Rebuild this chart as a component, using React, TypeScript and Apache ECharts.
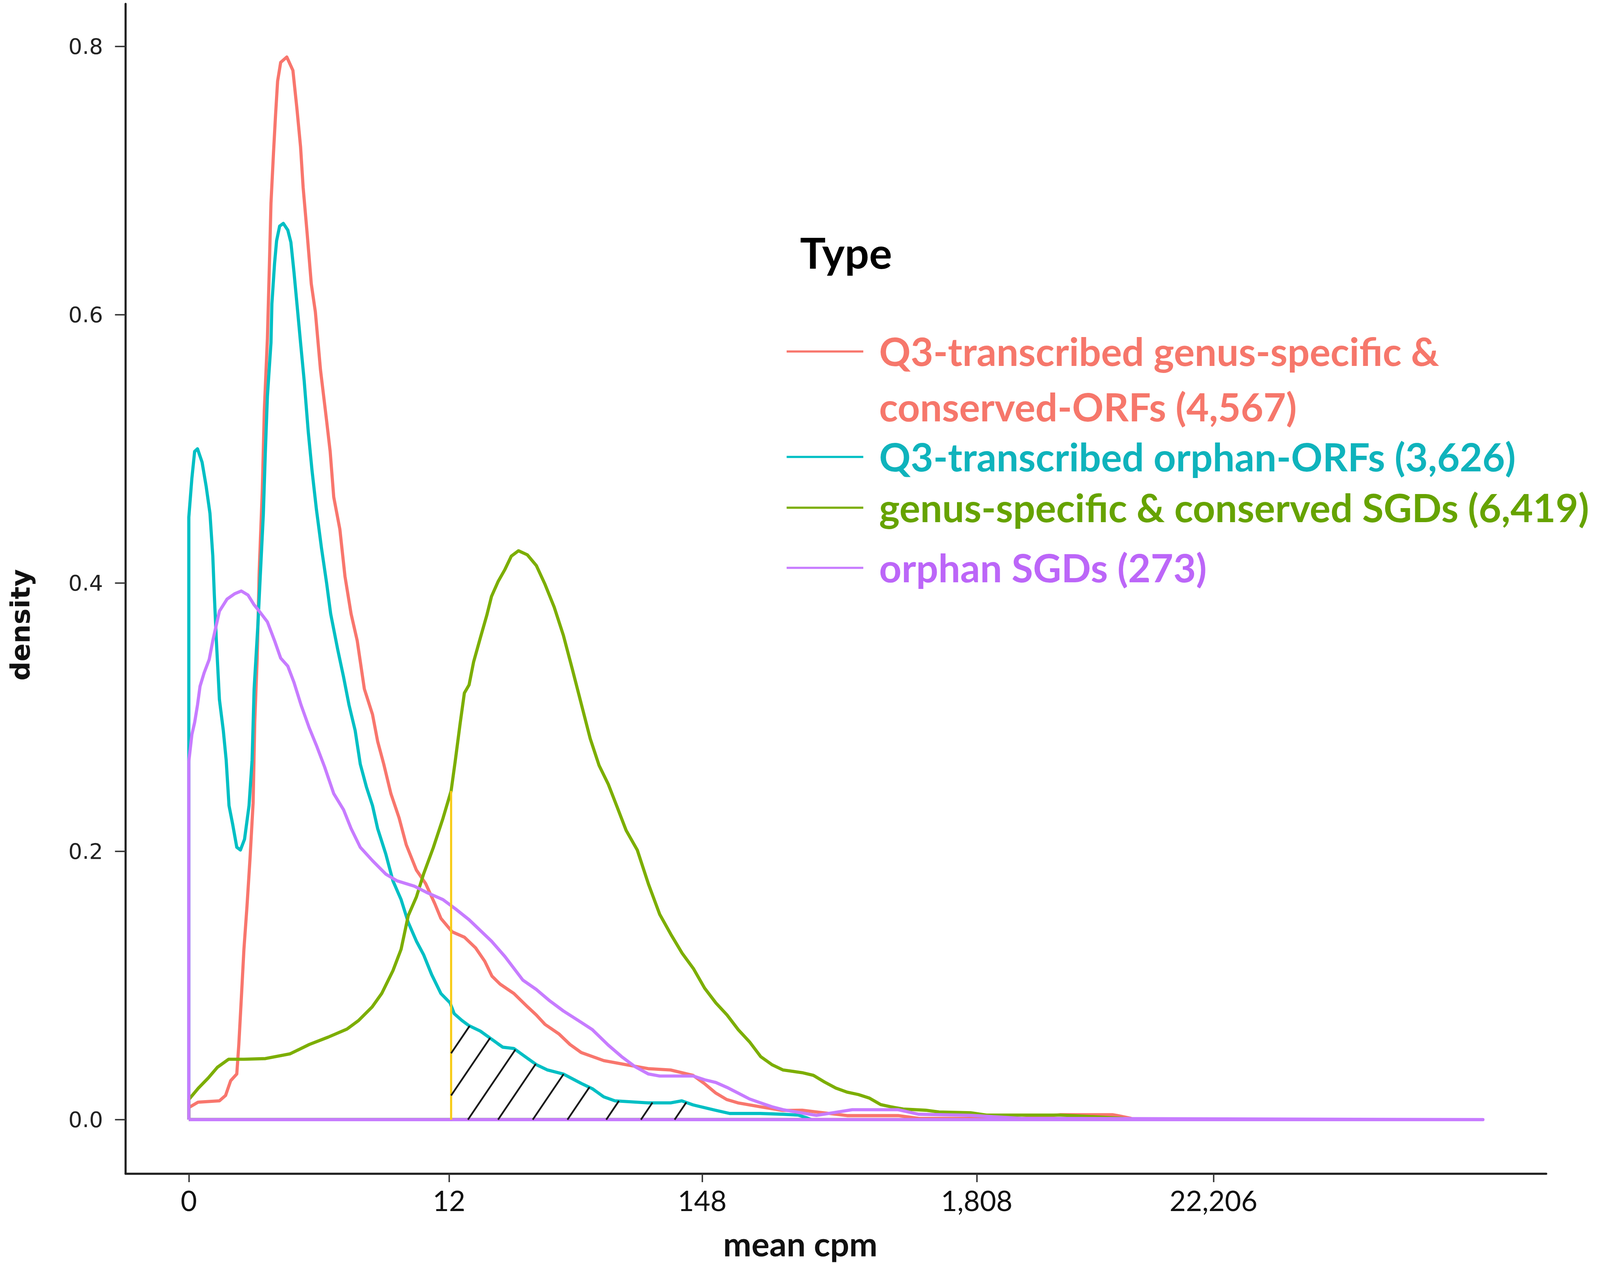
import React, { useEffect, useRef } from "react";
import * as echarts from "echarts";

// ---- Data (x in log units of mean cpm, y = density) ----
const seriesNames = [
  "Q3-transcribed genus-specific & conserved-ORFs (4,567)",
  "Q3-transcribed orphan-ORFs (3,626)",
  "genus-specific & conserved SGDs (6,419)",
  "orphan SGDs (273)",
];
const seriesColors = ["#F8766D", "#00BFC4", "#7CAE00", "#C77CFF"];
const legendTextColors = ["#F6776B", "#0FB3BC", "#66A300", "#BC66F8"];

const xTickValues = [0, 2.55, 5.03, 7.72, 10.04];
const xTickLabels = ["0", "12", "148", "1,808", "22,206"];
const yTickValues = [0, 0.2, 0.4, 0.6, 0.8];

const redCurve = [
  [0, 0], [0, 0.009], [0.09, 0.013], [0.3, 0.014], [0.36, 0.018], [0.41, 0.029], [0.47, 0.034],
  [0.49, 0.056], [0.515, 0.091], [0.54, 0.127], [0.57, 0.159], [0.6, 0.195], [0.63, 0.236],
  [0.646, 0.296], [0.67, 0.344], [0.69, 0.409], [0.72, 0.469], [0.74, 0.529], [0.77, 0.582],
  [0.79, 0.638], [0.805, 0.683], [0.83, 0.721], [0.85, 0.749], [0.87, 0.774], [0.9, 0.788],
  [0.96, 0.792], [1.02, 0.782], [1.06, 0.753], [1.095, 0.725], [1.12, 0.695], [1.16, 0.66],
  [1.2, 0.623], [1.24, 0.602], [1.29, 0.559], [1.35, 0.521], [1.385, 0.498], [1.42, 0.464],
  [1.48, 0.44], [1.53, 0.405], [1.59, 0.377], [1.65, 0.357], [1.72, 0.321], [1.8, 0.302],
  [1.85, 0.282], [1.91, 0.265], [1.98, 0.243], [2.06, 0.225], [2.13, 0.205], [2.23, 0.186],
  [2.32, 0.176], [2.41, 0.161], [2.47, 0.15], [2.58, 0.14], [2.7, 0.136], [2.81, 0.128],
  [2.9, 0.118], [2.97, 0.107], [3.05, 0.101], [3.185, 0.094], [3.32, 0.084], [3.405, 0.078],
  [3.49, 0.071], [3.625, 0.064], [3.735, 0.056], [3.845, 0.05], [4.065, 0.044], [4.28, 0.041],
  [4.5, 0.038], [4.72, 0.037], [4.94, 0.033], [5.05, 0.027], [5.16, 0.02], [5.27, 0.015],
  [5.38, 0.0125], [5.6, 0.0096], [5.82, 0.0068], [6.01, 0.007], [6.15, 0.0057], [6.45, 0.003],
  [6.95, 0.003], [7.15, 0.001], [8.15, 0.0007], [8.54, 0.0037], [9.05, 0.0037], [9.1, 0.003],
  [9.23, 0.001], [9.23, 0], [0, 0],
];

const cyanCurve = [
  [0, 0], [0, 0.449], [0.03, 0.478], [0.057, 0.498], [0.085, 0.5], [0.13, 0.49], [0.17, 0.472],
  [0.207, 0.452], [0.235, 0.42], [0.25, 0.391], [0.27, 0.357], [0.3, 0.313], [0.338, 0.29],
  [0.366, 0.268], [0.394, 0.234], [0.43, 0.22], [0.47, 0.203], [0.506, 0.201], [0.546, 0.209],
  [0.59, 0.234], [0.62, 0.268], [0.64, 0.321], [0.677, 0.369], [0.7, 0.405], [0.73, 0.451],
  [0.75, 0.498], [0.77, 0.539], [0.805, 0.579], [0.814, 0.608], [0.84, 0.638], [0.86, 0.655],
  [0.89, 0.666], [0.926, 0.668], [0.97, 0.663], [1.0, 0.654], [1.03, 0.632], [1.067, 0.602],
  [1.095, 0.579], [1.13, 0.551], [1.17, 0.513], [1.207, 0.484], [1.25, 0.455], [1.3, 0.426],
  [1.35, 0.4], [1.39, 0.377], [1.46, 0.35], [1.516, 0.33], [1.57, 0.309], [1.63, 0.29],
  [1.68, 0.265], [1.74, 0.248], [1.8, 0.234], [1.85, 0.217], [1.93, 0.198], [2.0, 0.178],
  [2.08, 0.164], [2.15, 0.147], [2.23, 0.133], [2.3, 0.123], [2.38, 0.108], [2.47, 0.094],
  [2.56, 0.087], [2.6, 0.079], [2.675, 0.074], [2.746, 0.07], [2.856, 0.066], [2.966, 0.06],
  [3.076, 0.054], [3.185, 0.053], [3.295, 0.047], [3.405, 0.041], [3.515, 0.037], [3.67, 0.034],
  [3.845, 0.027], [3.955, 0.023], [4.065, 0.017], [4.175, 0.014], [4.5, 0.0125], [4.72, 0.0125],
  [4.83, 0.014], [4.94, 0.011], [5.16, 0.007], [5.3, 0.0046], [5.6, 0.0046], [5.82, 0.004],
  [5.97, 0.0034], [6.05, 0.0015], [6.1, 0], [0, 0],
];

const greenCurve = [
  [0, 0], [0, 0.015], [0.094, 0.0235], [0.19, 0.031], [0.28, 0.039], [0.39, 0.045], [0.54, 0.045],
  [0.75, 0.0455], [0.99, 0.049], [1.18, 0.056], [1.366, 0.0615], [1.55, 0.0675], [1.665, 0.074],
  [1.796, 0.084], [1.89, 0.094], [2.0, 0.111], [2.08, 0.127], [2.15, 0.152], [2.23, 0.166],
  [2.3, 0.183], [2.395, 0.2026], [2.49, 0.2245], [2.57, 0.245], [2.61, 0.267], [2.658, 0.295],
  [2.7, 0.318], [2.746, 0.324], [2.79, 0.341], [2.856, 0.359], [2.92, 0.376], [2.966, 0.39],
  [3.03, 0.401], [3.097, 0.41], [3.16, 0.42], [3.23, 0.424], [3.317, 0.421], [3.405, 0.413],
  [3.49, 0.399], [3.58, 0.382], [3.67, 0.361], [3.757, 0.336], [3.845, 0.31], [3.933, 0.284],
  [4.02, 0.264], [4.11, 0.25], [4.197, 0.233], [4.285, 0.2156], [4.394, 0.201], [4.504, 0.1755],
  [4.614, 0.153], [4.724, 0.138], [4.834, 0.124], [4.944, 0.1126], [5.054, 0.098], [5.164, 0.087],
  [5.274, 0.078], [5.384, 0.067], [5.494, 0.058], [5.603, 0.047], [5.713, 0.041], [5.823, 0.037],
  [6.01, 0.035], [6.12, 0.033], [6.23, 0.028], [6.34, 0.0235], [6.45, 0.0205], [6.56, 0.0187],
  [6.67, 0.016], [6.78, 0.0112], [6.89, 0.0094], [7.0, 0.0079], [7.22, 0.007], [7.35, 0.0057],
  [7.66, 0.0051], [7.815, 0.0034], [8.54, 0.0034], [8.69, 0.0029], [9.15, 0.001], [9.2, 0], [0, 0],
];

const purpleCurve = [
  [0, 0], [0, 0.267], [0.03, 0.287], [0.057, 0.296], [0.085, 0.309], [0.11, 0.323], [0.15, 0.333],
  [0.2, 0.343], [0.235, 0.357], [0.3, 0.379], [0.375, 0.388], [0.45, 0.392], [0.515, 0.394],
  [0.58, 0.391], [0.637, 0.384], [0.69, 0.379], [0.77, 0.371], [0.84, 0.357], [0.9, 0.344],
  [0.97, 0.338], [1.03, 0.326], [1.1, 0.309], [1.18, 0.292], [1.25, 0.279], [1.33, 0.263],
  [1.42, 0.243], [1.516, 0.231], [1.59, 0.217], [1.68, 0.203], [1.8, 0.193], [1.93, 0.183],
  [2.04, 0.178], [2.21, 0.174], [2.34, 0.169], [2.49, 0.164], [2.614, 0.157], [2.746, 0.149],
  [2.856, 0.141], [2.966, 0.133], [3.098, 0.1215], [3.273, 0.104], [3.405, 0.097], [3.537, 0.0885],
  [3.67, 0.081], [3.845, 0.0725], [3.955, 0.067], [4.109, 0.0556], [4.24, 0.047], [4.372, 0.0395],
  [4.504, 0.034], [4.614, 0.0325], [4.944, 0.0325], [5.054, 0.0297], [5.164, 0.0277], [5.274, 0.024],
  [5.384, 0.0197], [5.494, 0.0154], [5.603, 0.0125], [5.713, 0.0096], [5.823, 0.0074], [5.97, 0.0054],
  [6.15, 0.0032], [6.5, 0.0074], [6.95, 0.0074], [7.15, 0.004], [7.65, 0.0032], [8.15, 0.001],
  [12.68, 0], [0, 0],
];

const curves = [redCurve, cyanCurve, greenCurve, purpleCurve];

// threshold (12 cpm) and hatch line foot positions on the baseline
const thresholdX = 2.57;
const hatchStarts = [2.13, 2.41, 2.735, 3.03, 3.37, 3.71, 4.09, 4.43, 4.76];

function interp(curve: number[][], x: number): number {
  for (let i = 0; i < curve.length - 1; i++) {
    const a = curve[i];
    const b = curve[i + 1];
    if (b[0] > a[0] && x >= a[0] && x <= b[0]) {
      return a[1] + ((b[1] - a[1]) * (x - a[0])) / (b[0] - a[0]);
    }
  }
  return 0;
}

// design reference size
const REF_W = 4550;
const REF_H = 3234;

export default function App() {
  const ref = useRef<HTMLDivElement>(null);

  useEffect(() => {
    if (!ref.current) return;
    const el = ref.current;
    const chart = echarts.init(el, null, { renderer: "svg" });
    const kx = el.clientWidth / REF_W;
    const ky = el.clientHeight / REF_H;
    const px = (v: number) => v * kx;
    const py = (v: number) => v * ky;
    const f = (v: number) => v * Math.min(kx, ky);

    const hatchSlope = 1.33 * (ky / kx);
    const lineSeries = curves.map((c, i) => ({
      name: seriesNames[i],
      type: "line",
      data: c,
      showSymbol: false,
      symbol: "none",
      smooth: false,
      lineStyle: { color: seriesColors[i], width: f(9), join: "round" },
      itemStyle: { color: seriesColors[i] },
      z: 2 + i,
    }));

    const legendFont = { fontFamily: "Lato", fontWeight: "bold", fontSize: f(111) };
    const legendRows = [
      { text: "Q3-transcribed genus-specific &", y: 898, line: true, c: 0 },
      { text: "conserved-ORFs (4,567)", y: 1040, line: false, c: 0 },
      { text: "Q3-transcribed orphan-ORFs (3,626)", y: 1168, line: true, c: 1 },
      { text: "genus-specific & conserved SGDs (6,419)", y: 1298, line: true, c: 2 },
      { text: "orphan SGDs (273)", y: 1452, line: true, c: 3 },
    ];
    const graphics: any[] = [
      {
        type: "text",
        x: px(2275),
        y: py(645),
        style: { text: "Type", fill: "#000", fontFamily: "Lato", fontWeight: "bold", fontSize: f(122), verticalAlign: "middle" },
      },
      {
        type: "text",
        x: px(58),
        y: py(1600),
        rotation: Math.PI / 2,
        style: { text: "density", fill: "#111", fontFamily: "DejaVu Sans", fontWeight: "bold", fontSize: f(76), align: "center", verticalAlign: "middle" },
      },
      {
        type: "text",
        x: px(2276),
        y: py(3183),
        style: { text: "mean cpm", fill: "#111", fontFamily: "Lato", fontWeight: "bold", fontSize: f(96), align: "center", verticalAlign: "middle" },
      },
    ];
    legendRows.forEach((r) => {
      if (r.line) {
        graphics.push({
          type: "line",
          shape: { x1: px(2237), y1: py(r.y + 2), x2: px(2455), y2: py(r.y + 2) },
          style: { stroke: seriesColors[r.c], lineWidth: f(6) },
        });
      }
      graphics.push({
        type: "text",
        x: px(2500),
        y: py(r.y),
        style: { text: r.text, fill: legendTextColors[r.c], ...legendFont, verticalAlign: "middle" },
      });
    });

    const option: any = {
      animation: false,
      backgroundColor: "#ffffff",
      grid: { left: px(357), right: px(153), top: py(10), bottom: py(229), containLabel: false },
      xAxis: {
        type: "value",
        min: -0.62,
        max: 13.3,
        splitLine: { show: false },
        axisLine: { show: true, onZero: false, lineStyle: { color: "#222", width: f(6) } },
        axisTick: { show: true, length: py(22), customValues: xTickValues, lineStyle: { color: "#333", width: f(4) } },
        axisLabel: {
          customValues: xTickValues,
          margin: py(32),
          fontFamily: "Lato",
          fontSize: f(80),
          color: "#111",
          formatter: (v: number) => {
            const idx = xTickValues.findIndex((t) => Math.abs(t - v) < 1e-6);
            return idx >= 0 ? xTickLabels[idx] : "";
          },
        },
      },
      yAxis: {
        type: "value",
        min: -0.0402,
        max: 0.8316,
        splitLine: { show: false },
        axisLine: { show: true, onZero: false, lineStyle: { color: "#222", width: f(6) } },
        axisTick: { show: true, length: px(30), customValues: yTickValues, lineStyle: { color: "#333", width: f(4) } },
        axisLabel: {
          customValues: yTickValues,
          margin: px(64),
          fontFamily: "DejaVu Sans",
          fontSize: f(62),
          color: "#222",
          formatter: (v: number) => v.toFixed(1),
        },
      },
      graphic: graphics,
      series: [
        ...lineSeries,
        {
          name: "threshold",
          type: "line",
          data: [
            [thresholdX, 0],
            [thresholdX, interp(greenCurve, thresholdX)],
          ],
          showSymbol: false,
          symbol: "none",
          lineStyle: { color: "#F7CB15", width: f(6) },
          z: 10,
        },
        {
          name: "hatch",
          type: "custom",
          coordinateSystem: "cartesian2d",
          data: hatchStarts.map((x) => [x, 0]),
          encode: { x: 0, y: 1 },
          z: 11,
          renderItem: (params: any, api: any) => {
            const x0 = api.value(0);
            const o = api.coord([0, 0]);
            const u = api.coord([1, 1]);
            const sx = u[0] - o[0];
            const sy = o[1] - u[1];
            const base = api.coord([x0, 0]);
            const startDx = x0 < thresholdX ? (thresholdX - x0) * sx : 0;
            let endDx = startDx;
            for (let dx = startDx; dx < 3000; dx += 0.5) {
              const xd = x0 + dx / sx;
              const yd = (hatchSlope * dx) / sy;
              if (yd >= interp(cyanCurve, xd)) {
                endDx = dx;
                break;
              }
            }
            return {
              type: "line",
              shape: {
                x1: base[0] + startDx,
                y1: base[1] - hatchSlope * startDx,
                x2: base[0] + endDx,
                y2: base[1] - hatchSlope * endDx,
              },
              style: { stroke: "#1a1a1a", lineWidth: f(5) },
            };
          },
        },
      ],
    };

    chart.setOption(option);
    return () => chart.dispose();
  }, []);

  return (
    <div
      ref={ref}
      style={{ position: "absolute", left: 0, top: 0, width: "100vw", height: "100vh", background: "#fff" }}
    />
  );
}
